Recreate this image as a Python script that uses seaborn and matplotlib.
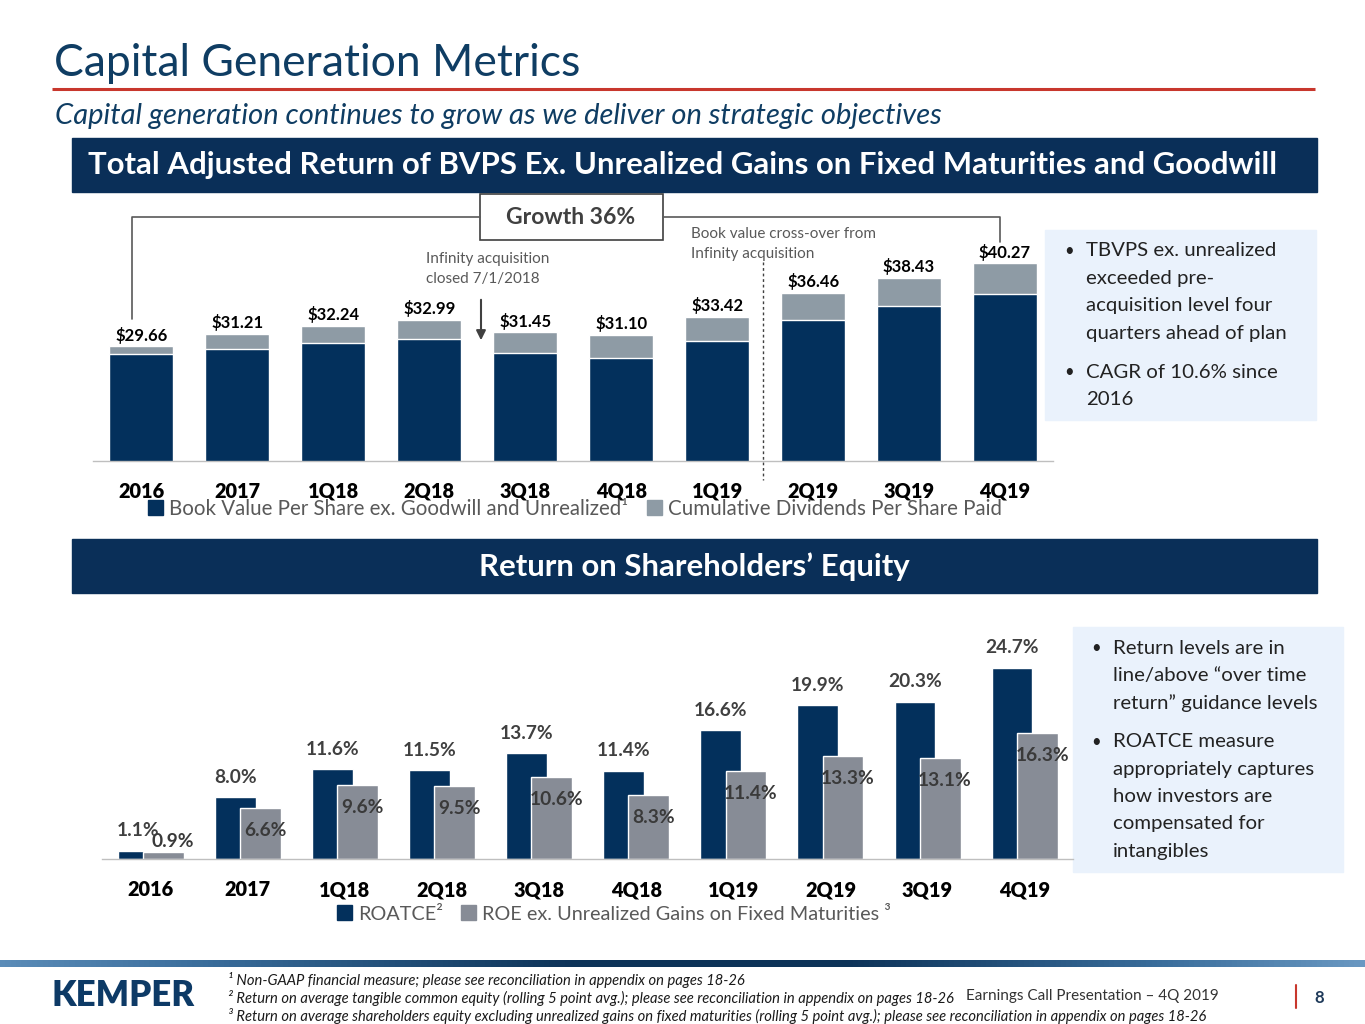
"""
Capital Generation Metrics slide (Kemper 4Q 2019) rebuilt with seaborn.

Top panel: stacked BVPS + cumulative dividends.
Bottom panel: ROATCE vs ROE ex. unrealized gains (overlapping bars).
"""

import numpy as np
import pandas as pd
import matplotlib.pyplot as plt
import seaborn as sns
from matplotlib.patches import Rectangle, Patch
from matplotlib.colors import LinearSegmentedColormap

# ---- data -------------------------------------------------------------
periods = ["2016", "2017", "1Q18", "2Q18", "3Q18", "4Q18", "1Q19", "2Q19", "3Q19", "4Q19"]

total_return = [29.66, 31.21, 32.24, 32.99, 31.45, 31.10, 33.42, 36.46, 38.43, 40.27]
cum_dividends = [0.96, 1.92, 2.16, 2.40, 2.64, 2.88, 3.13, 3.38, 3.63, 3.88]

roatce = [1.1, 8.0, 11.6, 11.5, 13.7, 11.4, 16.6, 19.9, 20.3, 24.7]
roe_ex_unrealized = [0.9, 6.6, 9.6, 9.5, 10.6, 8.3, 11.4, 13.3, 13.1, 16.3]

top_legend = ["Book Value Per Share ex. Goodwill and Unrealized\u00b9",
              "Cumulative Dividends Per Share Paid"]
bottom_legend = ["ROATCE\u00b2", "ROE ex. Unrealized Gains on Fixed Maturities \u00b3"]

bullets_top = [["TBVPS ex. unrealized", "exceeded pre-", "acquisition level four",
                "quarters ahead of plan"],
               ["CAGR of 10.6% since", "2016"]]
bullets_bottom = [["Return levels are in", "line/above \u201cover time",
                   "return\u201d guidance levels"],
                  ["ROATCE measure", "appropriately captures", "how investors are",
                   "compensated for", "intangibles"]]

footnotes = [
    "\u00b9 Non-GAAP financial measure; please see reconciliation in appendix on pages 18-26",
    "\u00b2 Return on average tangible common equity (rolling 5 point avg.); please see reconciliation in appendix on pages 18-26",
    "\u00b3 Return on average shareholders equity excluding unrealized gains on fixed maturities (rolling 5 point avg.); please see reconciliation in appendix on pages 18-26",
]

# ---- style ------------------------------------------------------------
NAVY = "#03305C"
GREY_TOP = "#8E9BA5"
GREY_BOT = "#878C96"
HEADER = "#0A2F58"
BOX_BLUE = "#EAF2FC"
LABEL_GREY = "#404040"

sns.set_theme(style="white")
plt.rcParams["font.family"] = ["Lato", "DejaVu Sans"]

W, H = 1365, 1024
fig = plt.figure(figsize=(W / 100, H / 100), dpi=100)


def fig_box(x0, y0, x1, y1):
    """Pixel box (top-left origin) -> figure fraction rect."""
    return [x0 / W, 1 - y1 / H, (x1 - x0) / W, (y1 - y0) / H]


# background layer in pixel coordinates
bg = fig.add_axes([0, 0, 1, 1])
bg.set_xlim(0, W)
bg.set_ylim(H, 0)
bg.axis("off")
bg.set_zorder(0)

# title block
bg.text(54, 64, "Capital Generation Metrics", fontsize=32, fontweight="normal",
        color="#0F3D63", va="center", ha="left")
bg.plot([52, 1315], [89, 89], color="#C8372D", lw=2.2, solid_capstyle="butt")
bg.text(55, 116, "Capital generation continues to grow as we deliver on strategic objectives",
        fontsize=21, style="italic", color="#0F3D63", va="center", ha="left")

# section headers
bg.add_patch(Rectangle((72, 138), 1245, 54, color=HEADER))
bg.text(88, 165, "Total Adjusted Return of BVPS Ex. Unrealized Gains on Fixed Maturities and Goodwill",
        fontsize=22.4, fontweight="bold", color="white", va="center", ha="left")
bg.add_patch(Rectangle((72, 539), 1245, 54, color=HEADER))
bg.text(694, 567, "Return on Shareholders\u2019 Equity", fontsize=22.4, fontweight="bold",
        color="white", va="center", ha="center")

# growth bracket + annotations
bg.plot([132, 132, 480], [319, 217, 217], color="#595959", lw=1.2)
bg.plot([663, 1000, 1000], [217, 217, 242], color="#595959", lw=1.2)
bg.add_patch(Rectangle((480, 194), 183, 46, facecolor="white", edgecolor="#404040", lw=1.2))
bg.text(571, 217, "Growth 36%", fontsize=16.5, fontweight="bold", color=LABEL_GREY,
        va="center", ha="center")
bg.text(426, 259, "Infinity acquisition", fontsize=11, color="#595959", va="center")
bg.text(426, 279, "closed 7/1/2018", fontsize=11, color="#595959", va="center")
bg.annotate("", xy=(481, 343), xytext=(481, 297),
            arrowprops=dict(arrowstyle="-|>", color="#404040", lw=1.5, mutation_scale=14))
bg.text(691, 234, "Book value cross-over from", fontsize=11, color="#595959", va="center")
bg.text(691, 254, "Infinity acquisition", fontsize=11, color="#595959", va="center")
bg.plot([763, 763], [262, 480], color="#404040", lw=1, linestyle=(0, (2, 2)))


# right-hand bullet boxes
def bullet_box(x0, y0, x1, y1, groups, first_line, step, gap, bx, tx):
    bg.add_patch(Rectangle((x0, y0), x1 - x0, y1 - y0, color=BOX_BLUE))
    y = first_line
    for lines in groups:
        bg.text(bx, y, "\u2022", fontsize=12, color="#222222", va="center", ha="left")
        for line in lines:
            bg.text(tx, y, line, fontsize=14.7, color="#222222", va="center", ha="left")
            y += step
        y += gap


bullet_box(1045, 230, 1316, 420, bullets_top, 251, 27.4, 11.5, 1064, 1086)
bullet_box(1073, 627, 1343, 872, bullets_bottom, 648, 27.4, 11.5, 1091, 1113)

# ---- top chart --------------------------------------------------------
ax1 = fig.add_axes(fig_box(93.3, 226.3, 1053, 461))
ax1.set_zorder(1)
ax1.patch.set_alpha(0)
bvps = np.array(total_return) - np.array(cum_dividends)
sns.barplot(x=periods, y=total_return, color=GREY_TOP, saturation=1, width=0.667, ax=ax1)
sns.barplot(x=periods, y=bvps, color=NAVY, saturation=1, width=0.667, ax=ax1)
ax1.set_ylim(15, 45)
ax1.set_xlim(-0.5, 9.5)
for i, v in enumerate(total_return):
    ax1.annotate(f"${v:.2f}", (i, v), xytext=(0, 2), textcoords="offset points",
                 ha="center", va="bottom", fontsize=12, fontweight="bold", color="black")

# ---- bottom chart -----------------------------------------------------
ax2 = fig.add_axes(fig_box(102.2, 642, 1073.2, 859.3))
ax2.set_zorder(1)
ax2.patch.set_alpha(0)
df_ret = pd.DataFrame({
    "period": periods * 2,
    "metric": ["ROATCE"] * len(periods) + ["ROE"] * len(periods),
    "value": roatce + roe_ex_unrealized,
})
sns.barplot(data=df_ret, x="period", y="value", hue="metric", palette=[NAVY, GREY_BOT],
            saturation=1, width=0.84, legend=False, ax=ax2)
# pull the two bars together so the grey one overlaps the navy one
for p in ax2.patches:
    shift = 0.08 if p.get_facecolor()[:3] == sns.utils.to_rgb(NAVY) else -0.08
    p.set_x(p.get_x() + shift)
ax2.set_ylim(0, 28)
ax2.set_xlim(-0.5, 9.5)

for i, v in enumerate(roatce):
    ax2.annotate(f"{v:.1f}%", (i - 0.13, v), xytext=(0, 14.3), textcoords="offset points",
                 ha="center", va="center", fontsize=13.8, fontweight="bold", color=LABEL_GREY)
for i, v in enumerate(roe_ex_unrealized):
    if v < 3:
        off = (6.5, 7.5)
    else:
        off = (3.5, -16.5)
    ax2.annotate(f"{v:.1f}%", (i + 0.13, v), xytext=off, textcoords="offset points",
                 ha="center", va="center", fontsize=13.8, fontweight="bold", color="#3A3A3A")

for ax in (ax1, ax2):
    sns.despine(ax=ax, left=True)
    ax.spines["bottom"].set_color("#BFBFBF")
    ax.spines["bottom"].set_linewidth(1)
    ax.set_yticks([])
    ax.set_xlabel("")
    ax.set_ylabel("")
    ax.tick_params(axis="x", length=0, pad=15, labelsize=14.3, labelcolor="black")
    for lab in ax.get_xticklabels():
        lab.set_fontweight("heavy")

# legends
leg_kw = dict(loc="center", frameon=False, ncol=2, handlelength=0.75,
              handleheight=0.75, handletextpad=0.3, columnspacing=0.9, labelcolor="#595959",
              borderpad=0)
fig.legend([Patch(color=NAVY), Patch(color=GREY_TOP)], top_legend, fontsize=14.8,
           bbox_to_anchor=(575 / W, 1 - 509 / H), **leg_kw)
fig.legend([Patch(color=NAVY), Patch(color=GREY_BOT)], bottom_legend, fontsize=14.3,
           bbox_to_anchor=(614 / W, 1 - 914 / H), **leg_kw)

# ---- footer -----------------------------------------------------------
band = LinearSegmentedColormap.from_list(
    "band", [(0, "#5B8CB8"), (0.15, "#3A6D9B"), (0.42, "#0D3358"),
             (0.62, "#0D3358"), (0.85, "#3A6D9B"), (1, "#6A98C2")])
bg.imshow(np.linspace(0, 1, 256)[None, :], cmap=band, aspect="auto",
          extent=(0, W, 967, 960))
bg.set_xlim(0, W)
bg.set_ylim(H, 0)
bg.text(52, 996, "KEMPER", fontsize=25, fontweight="heavy", color="#0D3A66",
        va="center", ha="left")
for k, note in enumerate(footnotes):
    bg.text(228, 980 + 18 * k, note, fontsize=10.6, style="italic", color="#1A1A1A",
            va="center", ha="left")
bg.text(966, 996, "Earnings Call Presentation \u2013 4Q 2019", fontsize=11,
        color="#333333", va="center", ha="left")
bg.plot([1296, 1296], [985, 1008], color="#C8372D", lw=1.5)
bg.text(1319, 998, "8", fontsize=12, fontweight="bold", color="#1F3A5A",
        va="center", ha="center")

fig.savefig("out.png", dpi=100)
print("saved out.png")
